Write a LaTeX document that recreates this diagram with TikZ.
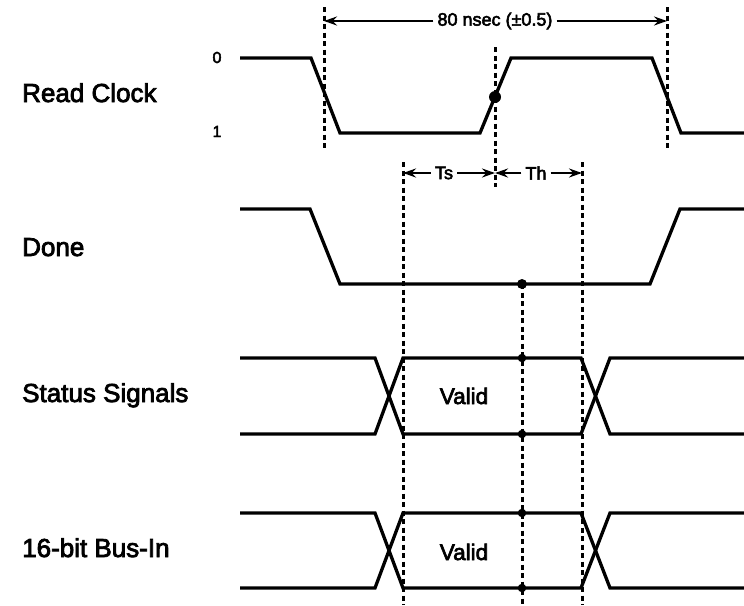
\documentclass[tikz,border=0pt]{standalone}
\usepackage{fontspec}
\setmainfont{Liberation Sans}[RawFeature={embolden=3}]
\usetikzlibrary{arrows.meta}
\tikzset{
  sig/.style={line width=3.3pt, line join=miter},
  guide/.style={line width=3pt, dash pattern=on 5pt off 3.5pt},
  dimline/.style={line width=2.2pt, -{Stealth[length=13pt,width=9pt]}},
  siglabel/.style={anchor=base west, inner sep=0pt, font=\fontsize{26}{30}\selectfont},
  smalltxt/.style={inner sep=0pt, font=\fontsize{18}{20}\selectfont},
  validtxt/.style={anchor=base, inner sep=0pt, font=\fontsize{22.5}{26}\selectfont},
  dot/.style={circle, fill, inner sep=0pt, minimum size=#1}
}
\begin{document}
\begin{tikzpicture}[x=1pt,y=-1pt]
  \useasboundingbox (0,0) rectangle (744,605);
  % signal names
  \node[siglabel] (rclk) at(22,102){Read Clock};
  \node[siglabel] (done) at(22,256){Done};
  \node[siglabel] (stat) at(22,402){Status Signals};
  \node[siglabel] (bus) at(22,557){16-bit Bus-In};
  % clock levels
  \node[smalltxt, anchor=base] (lvl0) at(217,63){\fontsize{16}{18}\selectfont 0};
  \node[smalltxt, anchor=base] (lvl1) at(217,137){\fontsize{16}{18}\selectfont 1};
  % read clock
  \draw[sig] (240,58) -- (311,58) -- (340,133) -- (480,133) -- (511,58)
    -- (652,58) -- (681,133) -- (744,133);
  % done
  \draw[sig] (240,209) -- (310,209) -- (340,284) -- (650,284) -- (680,209) -- (744,209);
  % status signals
  \draw[sig] (240,358) -- (375,358) -- (403,434) -- (581,434) -- (610,358) -- (744,358);
  \draw[sig] (240,434) -- (375,434) -- (403,358) -- (581,358) -- (610,434) -- (744,434);
  \node[validtxt] (sval) at(464,404){Valid};
  % 16-bit bus
  \draw[sig] (240,513) -- (375,513) -- (403,588) -- (581,588) -- (610,513) -- (744,513);
  \draw[sig] (240,588) -- (375,588) -- (403,513) -- (581,513) -- (610,588) -- (744,588);
  \node[validtxt] (bval) at(464,560){Valid};
  % guide lines
  \coordinate (p1t) at(324,7);   \coordinate (p1b) at(324,151);
  \coordinate (p2t) at(667,7);   \coordinate (p2b) at(667,151);
  \coordinate (edt) at(495,47);  \coordinate (edb) at(495,187);
  \coordinate (sut) at(403,162); \coordinate (sub) at(403,605);
  \coordinate (hot) at(582,162); \coordinate (hob) at(582,605);
  \coordinate (smt) at(522,284); \coordinate (smb) at(522,605);
  \draw[guide] (p1t) -- (p1b);
  \draw[guide] (p2t) -- (p2b);
  \draw[guide] (edt) -- (edb);
  \draw[guide] (sut) -- (sub);
  \draw[guide] (hot) -- (hob);
  \draw[guide] (smt) -- (smb);
  % sample points
  \node[dot=12pt] (ck) at(495,97){};
  \node[dot=10pt] (dn) at(522,284){};
  \node[dot=8.5pt] (s1) at(522,358){};
  \node[dot=8.5pt] (s2) at(522,434){};
  \node[dot=8.5pt] (b1) at(522,513){};
  \node[dot=8.5pt] (b2) at(522,588){};
  % period
  \node[smalltxt] (per) at(495,21){80 nsec (±0.5)};
  \draw[dimline] (per.west) ++(-4,0) -- (324,21);
  \draw[dimline] (per.east) ++(4,0) -- (667,21);
  % setup and hold
  \node[smalltxt] (ts) at(444,173){Ts};
  \node[smalltxt] (th) at(536,173){Th};
  \draw[dimline] (ts.west) ++(-4,0) -- (403,173);
  \draw[dimline] (ts.east) ++(4,0) -- (495,173);
  \draw[dimline] (th.west) ++(-4,0) -- (495,173);
  \draw[dimline] (th.east) ++(4,0) -- (582,173);
\end{tikzpicture}
\end{document}
